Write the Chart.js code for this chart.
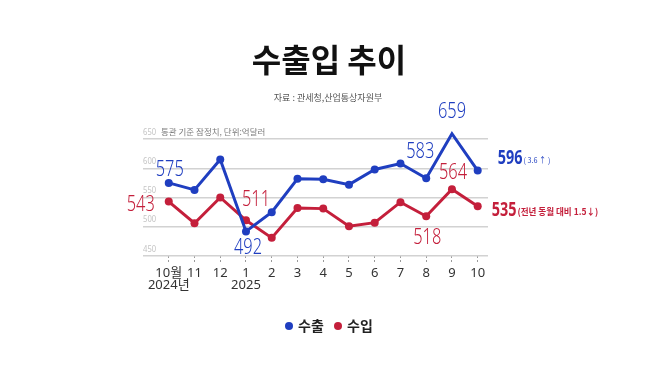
<!DOCTYPE html>
<html>
<head>
<meta charset="utf-8">
<script src="https://cdn.jsdelivr.net/npm/chart.js@4"></script>
<style>
  html, body { margin: 0; padding: 0; background: #fff; }
  #wrap { width: 658px; height: 369px; }
</style>
</head>
<body>
<div id="wrap"><canvas id="chart" width="658" height="369"></canvas></div>
<script>
// 월별 수출입 (억달러)
const months = ["10월", "11", "12", "1", "2", "3", "4", "5", "6", "7", "8", "9", "10"];
const years = ["2024년", "", "", "2025", "", "", "", "", "", "", "", "", ""];
const exportValues = [575, 563, 615, 492, 525, 582, 581, 572, 598, 608, 583, 659, 596];
const importValues = [543, 506, 550, 511, 481, 532, 531, 501, 507, 542, 518, 564, 535];
const yTicks = [450, 500, 550, 600, 650];

const BLUE = "#1f3ec0";
const RED = "#c41f3b";
const NUM_FONT = "'Noto Sans', 'Noto Sans CJK KR', sans-serif";
const KR_FONT = "'Noto Sans CJK KR', 'Noto Sans', sans-serif";

// which points get a value label, and where it sits relative to the point
const exportLabels = [{ i: 0, dx: 1, dy: -13 }, { i: 3, dx: 2, dy: 17 }, { i: 10, dx: -6, dy: -26 }, { i: 11, dx: 0, dy: -22 }];
const importLabels = [{ i: 0, dx: -28, dy: 3 }, { i: 3, dx: 10, dy: -20 }, { i: 10, dx: 1, dy: 22 }, { i: 11, dx: 1, dy: -16 }];

function text(ctx, str, x, y, font, color, align, squeeze) {
  ctx.save();
  ctx.font = font;
  ctx.fillStyle = color;
  ctx.textBaseline = "middle";
  ctx.textAlign = align || "left";
  ctx.translate(x, y);
  ctx.scale(squeeze || 1, 1);
  ctx.fillText(str, 0, 0);
  const w = ctx.measureText(str).width * (squeeze || 1);
  ctx.restore();
  return w;
}

const decorations = {
  id: "decorations",
  afterDraw(chart) {
    const { ctx, chartArea, scales } = chart;
    const xs = scales.x, ys = scales.y;

    text(ctx, "수출입 추이", 329, 60, `bold 32px ${KR_FONT}`, "#111", "center");
    text(ctx, "자료 : 관세청,산업통상자원부", 328, 98, `9px ${KR_FONT}`, "#555", "center");

    yTicks.forEach((v) => {
      text(ctx, String(v), chartArea.left, ys.getPixelForValue(v) - 7, `9px ${NUM_FONT}`, "#c4c4c4", "left", 0.85);
    });
    text(ctx, "통관 기준 잠정치, 단위:억달러", 161, ys.getPixelForValue(650) - 7, `8.5px ${KR_FONT}`, "#7a7a7a", "left");

    const valueFont = `300 21px ${NUM_FONT}`;
    exportLabels.forEach((l) => {
      const x = xs.getPixelForValue(l.i) + l.dx;
      const y = ys.getPixelForValue(exportValues[l.i]) + l.dy;
      text(ctx, String(exportValues[l.i]), x, y, valueFont, BLUE, "center", 0.78);
    });
    importLabels.forEach((l) => {
      const x = xs.getPixelForValue(l.i) + l.dx;
      const y = ys.getPixelForValue(importValues[l.i]) + l.dy;
      text(ctx, String(importValues[l.i]), x, y, valueFont, RED, "center", 0.78);
    });

    const last = months.length - 1;
    const ex = xs.getPixelForValue(last);
    let y = ys.getPixelForValue(exportValues[last]) - 12;
    let w = text(ctx, String(exportValues[last]), ex + 20, y, `bold 20px ${NUM_FONT}`, BLUE, "left", 0.72);
    text(ctx, "( 3.6 ↑ )", ex + 21 + w, y + 1, `8px ${KR_FONT}`, BLUE, "left", 0.9);
    y = ys.getPixelForValue(importValues[last]) + 4;
    w = text(ctx, String(importValues[last]), ex + 14, y, `bold 20px ${NUM_FONT}`, RED, "left", 0.72);
    text(ctx, "(전년 동월 대비 1.5↓)", ex + 15 + w, y + 1, `bold 9px ${KR_FONT}`, RED, "left", 0.95);

    // legend
    const ly = 326;
    chart.data.datasets.forEach((ds, k) => {
      const lx = 289 + k * 49;
      ctx.beginPath();
      ctx.arc(lx, ly, 4, 0, Math.PI * 2);
      ctx.fillStyle = ds.borderColor;
      ctx.fill();
      text(ctx, ds.label, lx + 9, ly, `bold 14px ${KR_FONT}`, "#222", "left");
    });
  }
};

new Chart(document.getElementById("chart"), {
  type: "line",
  data: {
    datasets: [
      {
        label: "수출",
        data: exportValues.map((v, i) => ({ x: i, y: v })),
        borderColor: BLUE,
        backgroundColor: BLUE,
        borderWidth: 3,
        pointRadius: 4,
        pointBorderWidth: 0,
        tension: 0,
        clip: false
      },
      {
        label: "수입",
        data: importValues.map((v, i) => ({ x: i, y: v })),
        borderColor: RED,
        backgroundColor: RED,
        borderWidth: 3,
        pointRadius: 4,
        pointBorderWidth: 0,
        tension: 0,
        clip: false
      }
    ]
  },
  options: {
    responsive: false,
    animation: false,
    layout: { padding: { left: 143, right: 170, top: 139, bottom: 73 } },
    plugins: { legend: { display: false }, tooltip: { enabled: false } },
    scales: {
      x: {
        type: "linear",
        min: -1,
        max: 12.4,
        afterBuildTicks: (scale) => { scale.ticks = months.map((m, i) => ({ value: i })); },
        afterFit: (scale) => { scale.height = 40; },
        border: { display: false },
        grid: {
          drawOnChartArea: false,
          drawTicks: true,
          tickLength: 7,
          tickColor: "#9a9a9a",
          tickWidth: 1,
          tickBorderDash: [2, 2]
        },
        ticks: {
          padding: 4,
          maxRotation: 0,
          autoSkip: false,
          color: "#333",
          font: { family: "'Noto Sans', 'Noto Sans CJK KR', sans-serif", size: 13, lineHeight: 0.95 },
          callback: (v) => (years[v] ? [months[v], years[v]] : months[v])
        }
      },
      y: {
        min: 450,
        max: 650,
        afterBuildTicks: (scale) => { scale.ticks = yTicks.map((v) => ({ value: v })); },
        afterFit: (scale) => { scale.width = 0; },
        border: { display: false },
        grid: { color: "#d2d2d2", lineWidth: 1.5, drawTicks: false },
        ticks: { display: false }
      }
    }
  },
  plugins: [decorations]
});
</script>
</body>
</html>
